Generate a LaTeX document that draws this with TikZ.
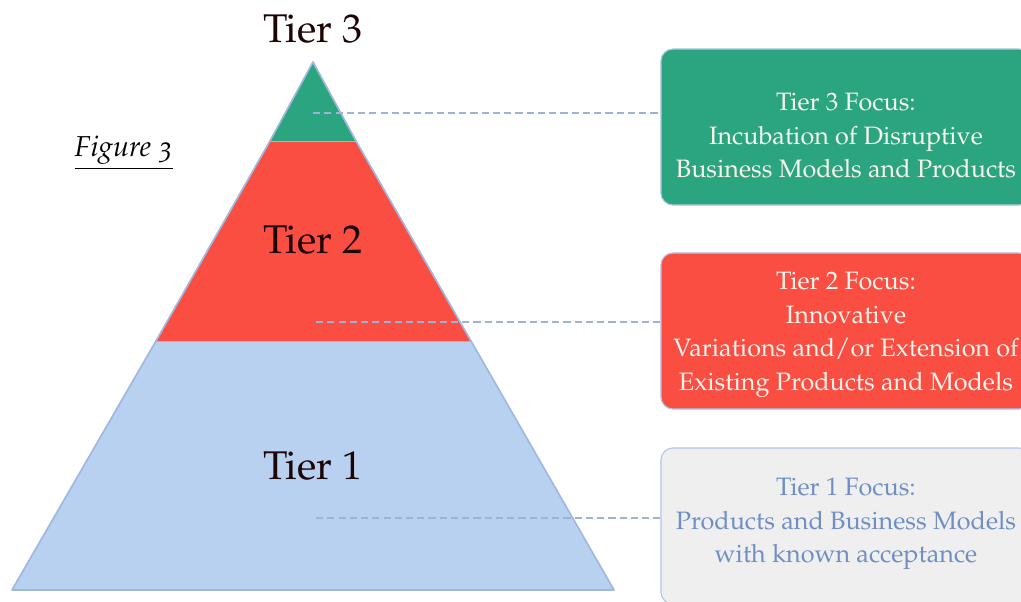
\documentclass[tikz,border=0pt]{standalone}
\usepackage[T1]{fontenc}
\usepackage{mathpazo}
\usetikzlibrary{positioning}

\definecolor{tiergreen}{RGB}{43,165,127}
\definecolor{tierred}{RGB}{250,78,67}
\definecolor{tierblue}{RGB}{185,209,241}
\definecolor{tieredge}{RGB}{160,184,222}
\definecolor{tierink}{RGB}{30,5,5}
\definecolor{focusgrey}{RGB}{239,239,239}
\definecolor{focusink}{RGB}{112,142,196}
\definecolor{focuscream}{RGB}{248,244,236}

\tikzset{
    tierlabel/.style={text=tierink, font=\fontsize{28.5}{34}\selectfont},
    focusbox/.style={rounded corners=0.3cm, minimum width=9.25cm, minimum height=3.9cm,
        draw=tieredge!80, line width=0.8pt},
    focustext/.style={align=center, font=\fontsize{17.9}{23.8}\selectfont, text=focuscream},
    leader/.style={tieredge!90!gray, line width=2pt, dash pattern=on 5pt off 3pt},
}

\begin{document}
\begin{tikzpicture}[x=0.025cm, y=-0.025cm]

    \clip (0,0) rectangle (1021,601);
    \fill [white] (0,0) rectangle (1021,601);

    %pyramid corners
    \coordinate (apex) at (313,62);
    \coordinate (t3l) at (270,141);
    \coordinate (t3r) at (356,141);
    \coordinate (t2l) at (156,341);
    \coordinate (t2r) at (471,341);
    \coordinate (t1l) at (12,590);
    \coordinate (t1r) at (614,590);

    %pyramid layers
    \fill [tierblue] (t1l) -- (t1r) -- (t2r) -- (t2l) -- cycle;
    \fill [tierred] (t2l) -- (t2r) -- (t3r) -- (t3l) -- cycle;
    \fill [tiergreen] (t3l) -- (t3r) -- (apex) -- cycle;
    \draw [tieredge, line width=1.2pt, line join=round]
        (apex) -- (t3l) -- (t2l) -- (t1l) -- (t1r) -- (t2r) -- (t3r) -- cycle;
    \draw [tieredge, line width=0.5pt] (t2l) -- (t2r) (t3l) -- (t3r);

    %tier names
    \node [tierlabel] (tier3) at (313,29) {Tier 3};
    \node [tierlabel] (tier2) at (313,240) {Tier 2};
    \node [tierlabel] (tier1) at (313,466) {Tier 1};

    \node (figlabel) at (124,153)
        {\fontsize{20.5}{24}\fontfamily{pplj}\selectfont\underline{\itshape Figure 3}};

    %focus boxes
    \node [focusbox, fill=tiergreen] (focus3) at (846,127) {};
    \node [focusbox, fill=tierred] (focus2) at (846,331) {};
    \node [focusbox, fill=focusgrey] (focus1) at (846,526) {};

    \node [focustext] (focus3text) at (846,136)
        {Tier 3 Focus:\\Incubation of Disruptive\\Business Models and Products};
    \node [focustext] (focus2text) at (846,335)
        {Tier 2 Focus:\\Innovative\\Variations and/or Extension of\\Existing Products and Models};
    \node [focustext, text=focusink] (focus1text) at (846,524)
        {Tier 1 Focus:\\Products and Business Models\\with known acceptance};

    %dashed leaders
    \coordinate (lead3) at (313,113);
    \coordinate (lead2) at (316,322);
    \coordinate (lead1) at (316,518);
    \draw [leader] (lead3) -- (lead3 -| focus3.west);
    \draw [leader] (lead2) -- (lead2 -| focus2.west);
    \draw [leader] (lead1) -- (lead1 -| focus1.west);

\end{tikzpicture}
\end{document}
